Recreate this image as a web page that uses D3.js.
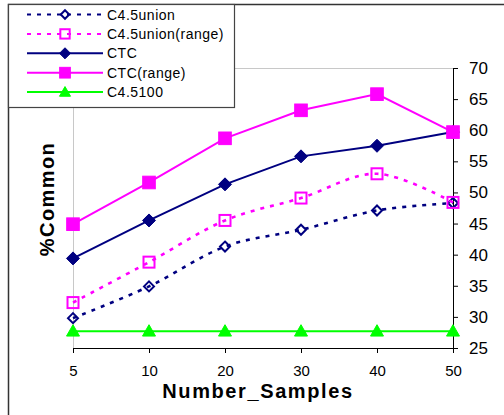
<!DOCTYPE html>
<html>
<head>
<meta charset="utf-8">
<script src="https://cdn.jsdelivr.net/npm/d3@7"></script>
<style>
  body { margin: 0; background: #fff; }
  svg { display: block; font-family: Arial, "Liberation Sans", sans-serif; }
</style>
</head>
<body>
<div id="chart"></div>
<script>
// data
const samples = ["5", "10", "20", "30", "40", "50"];
const c45union = [29.8, 34.9, 41.3, 44.0, 47.1, 48.3];
const c45unionRange = [32.3, 38.8, 45.5, 49.1, 53.0, 48.4];
const ctc = [39.4, 45.5, 51.3, 55.8, 57.5, 59.7];
const ctcRange = [44.9, 51.6, 58.7, 63.2, 65.8, 59.7];
const c45100 = [27.7, 27.7, 27.7, 27.7, 27.7, 27.7];
const yTicks = [25, 30, 35, 40, 45, 50, 55, 60, 65, 70];

const series = [
    { name: "C4.5union", values: c45union, color: "#000080", dash: "4,6", marker: "diamond", filled: false, smooth: true },
    { name: "C4.5union(range)", values: c45unionRange, color: "#FF00FF", dash: "4,6", marker: "square", filled: false, smooth: true },
    { name: "CTC", values: ctc, color: "#000080", dash: null, marker: "diamond", filled: true, smooth: false },
    { name: "CTC(range)", values: ctcRange, color: "#FF00FF", dash: null, marker: "square", filled: true, smooth: false },
    { name: "C4.5100", values: c45100, color: "#00FF00", dash: null, marker: "triangle", filled: true, smooth: false }
];

const width = 504, height = 415;
const plotLeft = 73, plotRight = 453, plotTop = 68, plotBottom = 348;

const svg = d3.select("#chart")
    .append("svg")
    .attr("width", width)
    .attr("height", height);

// chart border
svg.append("rect")
    .attr("x", 8.5).attr("y", 4.5)
    .attr("width", 520).attr("height", 440)
    .attr("fill", "none")
    .attr("stroke", "#333")
    .attr("stroke-width", 1.5);

const x = d3.scalePoint().domain(samples).range([plotLeft, plotRight]);
const y = d3.scaleLinear().domain([25, 70]).range([plotBottom, plotTop]);

// grey plot area edges
svg.append("path")
    .attr("d", `M ${plotLeft + 0.5} ${plotBottom} V ${plotTop + 0.5} H ${plotRight}`)
    .attr("fill", "none")
    .attr("stroke", "#c8c8c8")
    .attr("stroke-width", 1);

// axes
const xAxis = svg.append("g")
    .attr("transform", `translate(0,${plotBottom})`)
    .call(d3.axisBottom(x).tickSize(5).tickSizeOuter(0).tickPadding(12));
xAxis.selectAll("text").attr("font-size", "15px").attr("fill", "#000");

const yAxis = svg.append("g")
    .attr("transform", `translate(${plotRight},0)`)
    .call(d3.axisRight(y).tickValues(yTicks).tickSize(5).tickSizeOuter(0).tickPadding(11));
yAxis.selectAll("text").attr("font-size", "17px").attr("fill", "#000");
svg.selectAll(".domain, .tick line").attr("stroke", "#000");

// marker shapes
function marker(g, s, cx, cy, scale) {
    const k = scale || 1;
    let el;
    if (s.marker === "diamond") {
        const r = (s.filled ? 6.5 : 5) * k;
        el = g.append("path").attr("d", `M ${cx} ${cy - r} L ${cx + r} ${cy} L ${cx} ${cy + r} L ${cx - r} ${cy} Z`);
    } else if (s.marker === "square") {
        const r = (s.filled ? 6.3 : 5.5) * k;
        el = g.append("rect").attr("x", cx - r).attr("y", cy - r).attr("width", 2 * r).attr("height", 2 * r);
    } else {
        const r = 6.5 * k;
        el = g.append("path").attr("d", `M ${cx} ${cy - r} L ${cx + r} ${cy + r * 0.75} L ${cx - r} ${cy + r * 0.75} Z`);
    }
    if (s.filled) {
        el.attr("fill", s.color).attr("stroke", s.color).attr("stroke-width", 1);
    } else {
        el.attr("fill", "none").attr("stroke", s.color).attr("stroke-width", 2);
    }
}

// lines and markers
series.forEach(s => {
    const line = d3.line()
        .x((d, i) => x(samples[i]))
        .y(d => y(d))
        .curve(s.smooth ? d3.curveCatmullRom.alpha(0) : d3.curveLinear);
    svg.append("path")
        .datum(s.values)
        .attr("d", line)
        .attr("fill", "none")
        .attr("stroke", s.color)
        .attr("stroke-width", s.dash ? 2.6 : 2)
        .attr("stroke-dasharray", s.dash);
    const g = svg.append("g");
    s.values.forEach((v, i) => marker(g, s, x(samples[i]), y(v)));
});

// axis titles
svg.append("text")
    .attr("x", 258).attr("y", 398)
    .attr("text-anchor", "middle")
    .attr("font-size", "20px")
    .attr("font-weight", "bold")
    .attr("letter-spacing", "1.6px")
    .text("Number_Samples");

svg.append("text")
    .attr("transform", "translate(54,199) rotate(-90)")
    .attr("text-anchor", "middle")
    .attr("font-size", "20px")
    .attr("font-weight", "bold")
    .attr("letter-spacing", "1.4px")
    .text("%Common");

// legend
const legend = svg.append("g");
legend.append("rect")
    .attr("x", 8.5).attr("y", 4.5)
    .attr("width", 226).attr("height", 103)
    .attr("fill", "#fff")
    .attr("stroke", "#444")
    .attr("stroke-width", 1.2);

series.forEach((s, i) => {
    const ly = 14.5 + i * 19.4;
    legend.append("line")
        .attr("x1", 27).attr("x2", 103)
        .attr("y1", ly).attr("y2", ly)
        .attr("stroke", s.color)
        .attr("stroke-width", 2)
        .attr("stroke-dasharray", s.dash);
    marker(legend, s, 65, ly, 0.85);
    legend.append("text")
        .attr("x", 107).attr("y", ly)
        .attr("dy", "0.36em")
        .attr("font-size", "14px")
        .attr("letter-spacing", "0.5px")
        .attr("fill", "#000")
        .text(s.name);
});
</script>
</body>
</html>
